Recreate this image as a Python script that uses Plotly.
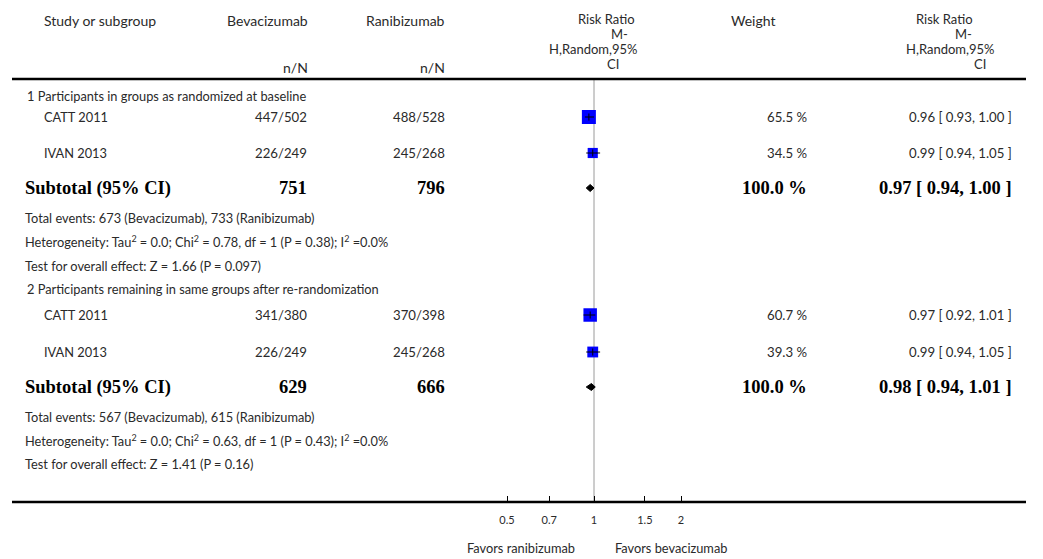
import math
import plotly.graph_objects as go

W, H = 1043, 559

# ---------------- data ----------------
group_titles = ["1 Participants in groups as randomized at baseline",
                "2 Participants remaining in same groups after re-randomization"]
studies = ["CATT 2011", "IVAN 2013", "CATT 2011", "IVAN 2013"]
study_group = [0, 0, 1, 1]
bev_events = [447, 226, 341, 226]
bev_total = [502, 249, 380, 249]
ran_events = [488, 245, 370, 245]
ran_total = [528, 268, 398, 268]
rr = [0.96, 0.99, 0.97, 0.99]
rr_lo = [0.93, 0.94, 0.92, 0.94]
rr_hi = [1.00, 1.05, 1.01, 1.05]
weight = [65.5, 34.5, 60.7, 39.3]

sub_bev_total = [751, 629]
sub_ran_total = [796, 666]
sub_bev_events = [673, 567]
sub_ran_events = [733, 615]
sub_weight = [100.0, 100.0]
sub_rr = [0.97, 0.98]
sub_lo = [0.94, 0.94]
sub_hi = [1.00, 1.01]
tau2 = [0.0, 0.0]
chi2 = [0.78, 0.63]
dfree = [1, 1]
p_het = ["0.38", "0.43"]
i2 = [0.0, 0.0]
z_val = [1.66, 1.41]
p_z = ["0.097", "0.16"]

tick_vals = [0.5, 0.7, 1, 1.5, 2]
tick_text = ["0.5", "0.7", "1", "1.5", "2"]
favors_left = "Favors ranibizumab"
favors_right = "Favors bevacizumab"

# ---------------- layout constants (pixel rows) ----------------
study_y = [117, 153, 315, 352]
group_y = [96, 289]
sub_y = [188, 387]
te_y = [218, 417]
het_y = [241, 440]
test_y = [266, 464]

SANS = "Lato, 'Open Sans', sans-serif"
SERIF = "'Liberation Serif', 'Times New Roman', serif"
TXT = "#2a2a2a"
BODY = 12.8
NUM = 13.2
HEAD = 14
HEAD_RR = 13
BOLD = 18.5

PX_PER_LOG10 = 289.0
X_ONE = 594.0
DOM_L, DOM_R = 420.0, 770.0
xr = [(DOM_L - X_ONE) / PX_PER_LOG10, (DOM_R - X_ONE) / PX_PER_LOG10]

fig = go.Figure()

# study squares
fig.add_trace(go.Scatter(
    x=rr, y=study_y, mode="markers",
    marker=dict(symbol="square", color="#0000ff", opacity=1,
                size=[1.73 * math.sqrt(w) for w in weight],
                line=dict(width=0)),
    hoverinfo="skip", showlegend=False))

# CI lines
for i in range(len(rr)):
    fig.add_trace(go.Scatter(
        x=[rr_lo[i], rr_hi[i]], y=[study_y[i], study_y[i]], mode="lines",
        line=dict(color="black", width=1), hoverinfo="skip", showlegend=False))
fig.add_trace(go.Scatter(
    x=rr, y=study_y, mode="markers",
    marker=dict(symbol="line-ns", size=5, opacity=1, line=dict(color="black", width=1)),
    hoverinfo="skip", showlegend=False))

# subtotal diamonds
for g in range(2):
    h = 3.5
    fig.add_trace(go.Scatter(
        x=[sub_lo[g], sub_rr[g], sub_hi[g], sub_rr[g], sub_lo[g]],
        y=[sub_y[g], sub_y[g] - h, sub_y[g], sub_y[g] + h, sub_y[g]],
        mode="lines", fill="toself", fillcolor="black",
        line=dict(color="black", width=1), hoverinfo="skip", showlegend=False))

ann = []


def txt(x, y, s, anchor="left", size=BODY, font=SANS, color=TXT):
    ann.append(dict(x=x / W, y=y, xref="paper", yref="y", text=s, showarrow=False,
                    xanchor=anchor, yanchor="middle",
                    font=dict(family=font, size=size, color=color)))


# headers
txt(42, 20, "Study or subgroup", size=HEAD)
txt(310, 20, "Bevacizumab", "right", size=HEAD)
txt(447, 20, "Ranibizumab", "right", size=HEAD)
txt(310, 67, "n/N", "right", size=HEAD)
txt(447, 67, "n/N", "right", size=HEAD)
txt(606, 19, "Risk Ratio", "center", size=HEAD_RR)
txt(619, 34, "M-", "center", size=HEAD_RR)
txt(593, 49, "H,Random,95%", "center", size=HEAD_RR)
txt(613, 64, "CI", "center", size=HEAD_RR)
txt(753, 20, "Weight", "center", size=HEAD)
txt(975, 19, "Risk Ratio", "right", size=HEAD_RR)
txt(974, 34, "M-", "right", size=HEAD_RR)
txt(996, 49, "H,Random,95%", "right", size=HEAD_RR)
txt(988, 64, "CI", "right", size=HEAD_RR)

for g in range(2):
    txt(25, group_y[g], group_titles[g])
for i in range(len(studies)):
    y = study_y[i]
    txt(42, y, studies[i])
    txt(309, y, f"{bev_events[i]}/{bev_total[i]}", "right", size=NUM)
    txt(447, y, f"{ran_events[i]}/{ran_total[i]}", "right", size=NUM)
    txt(809, y, f"{weight[i]:.1f} %", "right", size=NUM)
    txt(1014, y, f"{rr[i]:.2f} [ {rr_lo[i]:.2f}, {rr_hi[i]:.2f} ]", "right", size=NUM)

for g in range(2):
    y = sub_y[g]
    txt(23, y, "<b>Subtotal (95% CI)</b>", size=BOLD, font=SERIF, color="black")
    txt(309, y, f"<b>{sub_bev_total[g]}</b>", "right", size=BOLD, font=SERIF, color="black")
    txt(447, y, f"<b>{sub_ran_total[g]}</b>", "right", size=BOLD, font=SERIF, color="black")
    txt(809, y, f"<b>{sub_weight[g]:.1f} %</b>", "right", size=BOLD, font=SERIF, color="black")
    txt(1014, y, f"<b>{sub_rr[g]:.2f} [ {sub_lo[g]:.2f}, {sub_hi[g]:.2f} ]</b>", "right",
        size=BOLD, font=SERIF, color="black")
    txt(23, te_y[g], f"Total events: {sub_bev_events[g]} (Bevacizumab), {sub_ran_events[g]} (Ranibizumab)")
    txt(23, het_y[g], f"Heterogeneity: Tau<sup>2</sup> = {tau2[g]:.1f}; Chi<sup>2</sup> = {chi2[g]:.2f}, "
                      f"df = {dfree[g]} (P = {p_het[g]}); I<sup>2</sup> ={i2[g]:.1f}%")
    txt(23, test_y[g], f"Test for overall effect: Z = {z_val[g]:.2f} (P = {p_z[g]})")

txt(521, 548, favors_left, "center")
txt(671, 548, favors_right, "center")

shapes = [
    dict(type="line", xref="paper", yref="y", x0=12 / W, x1=1026 / W, y0=79, y1=79,
         line=dict(color="black", width=2.5)),
    dict(type="line", xref="paper", yref="y", x0=12 / W, x1=1026 / W, y0=502, y1=502,
         line=dict(color="black", width=2.5)),
    dict(type="line", xref="x", yref="y", x0=1, x1=1, y0=79, y1=502,
         line=dict(color="#9a9a9a", width=1), layer="below"),
]

fig.update_layout(
    width=W, height=H, margin=dict(l=0, r=0, t=0, b=0),
    paper_bgcolor="white", plot_bgcolor="rgba(0,0,0,0)",
    showlegend=False, annotations=ann, shapes=shapes,
    xaxis=dict(type="log", range=xr, domain=[DOM_L / W, DOM_R / W],
               anchor="free", position=(H - 502) / H,
               showgrid=False, zeroline=False, showline=False,
               ticks="inside", ticklen=6, tickcolor="black", tickwidth=1,
               tickvals=tick_vals, ticktext=tick_text, ticklabelstandoff=10,
               tickfont=dict(family=SANS, size=11, color=TXT)),
    yaxis=dict(range=[H, 0], domain=[0, 1], visible=False, fixedrange=True),
)

fig.write_html("out.html", config={"displayModeBar": False},
               post_script="document.body.style.margin='0px';document.body.style.overflow='hidden';")
